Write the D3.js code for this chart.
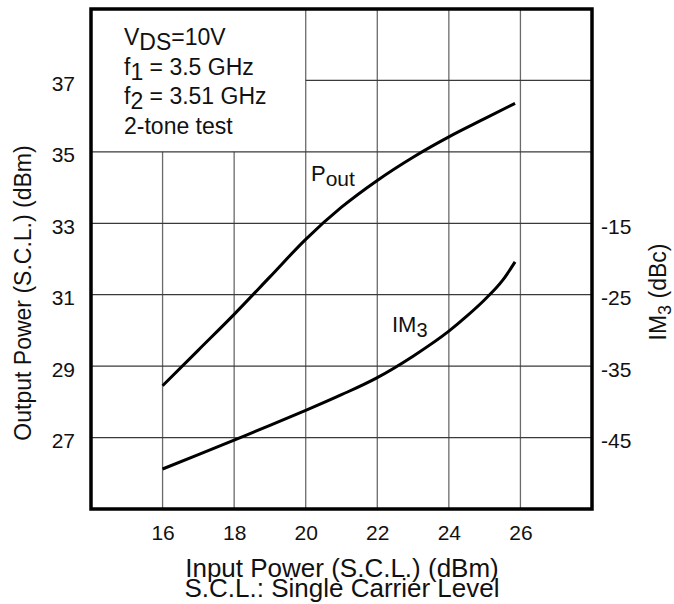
<!DOCTYPE html>
<html>
<head>
<meta charset="utf-8">
<script src="https://cdn.jsdelivr.net/npm/d3@7"></script>
<style>
  body { margin: 0; background: #fff; }
  svg text { font-family: "Liberation Sans", Arial, sans-serif; fill: #111; }
</style>
</head>
<body>
<div id="chart"></div>
<script>
// input power (dBm), x axis
const inputPower = [16, 17, 18, 19, 20, 21, 22, 23, 24, 25, 25.85];
// output power curve (left axis, dBm)
const poutDbm = [28.45, 29.45, 30.45, 31.5, 32.55, 33.45, 34.2, 34.85, 35.42, 35.93, 36.36];
// IM3 curve (right axis, dBc), sampled finer near the steep end
const im3Power = [16, 17, 18, 19, 20, 21, 22, 23, 24, 24.5, 25, 25.5, 25.85];
const im3Dbc = [-49.4, -47.4, -45.35, -43.3, -41.2, -39.0, -36.6, -33.6, -30.1, -28.0, -25.7, -23.0, -20.4];

const xTicks = [16, 18, 20, 22, 24, 26];
const leftTicks = [27, 29, 31, 33, 35, 37];
const rightTicks = [-45, -35, -25, -15];
const noteLines = [["V", "DS", "=10V"], ["f", "1", " = 3.5 GHz"], ["f", "2", " = 3.51 GHz"], ["2-tone test", "", ""]];

const width = 674, height = 604;
const margin = {top: 9, right: 82, bottom: 95, left: 91};

const svg = d3.select("#chart").append("svg")
    .attr("width", width)
    .attr("height", height);

const x = d3.scaleLinear().domain([14, 28]).range([margin.left, width - margin.right]);
const y = d3.scaleLinear().domain([25, 39]).range([height - margin.bottom, margin.top]);
const yIm = d3.scaleLinear().domain([-55, 15]).range([height - margin.bottom, margin.top]);

// grid - the note box in the upper left has no grid behind it
const grid = svg.append("g");
xTicks.forEach(v => {
    grid.append("line")
        .attr("x1", x(v)).attr("x2", x(v))
        .attr("y1", y(25)).attr("y2", v < 20 ? y(35) : y(39))
        .attr("stroke", "#6a6a6a").attr("stroke-width", 1.3);
});
leftTicks.forEach(v => {
    grid.append("line")
        .attr("x1", v > 35 ? x(20) : x(14)).attr("x2", x(28))
        .attr("y1", y(v)).attr("y2", y(v))
        .attr("stroke", "#3a3a3a").attr("stroke-width", 1.3);
});

// axes (labels only), plain hyphen for negatives like the source
const fmt = d => String(d);
const xAxis = svg.append("g")
    .attr("transform", `translate(0,${y(25)})`)
    .call(d3.axisBottom(x).tickValues(xTicks).tickFormat(fmt).tickSize(0).tickPadding(16));
const yAxis = svg.append("g")
    .attr("transform", `translate(${x(14)},0)`)
    .call(d3.axisLeft(y).tickValues(leftTicks).tickFormat(fmt).tickSize(0).tickPadding(16));
const yAxisR = svg.append("g")
    .attr("transform", `translate(${x(28)},0)`)
    .call(d3.axisRight(yIm).tickValues(rightTicks).tickFormat(fmt).tickSize(0).tickPadding(9));

[xAxis, yAxis, yAxisR].forEach(a => {
    a.select(".domain").remove();
    a.selectAll("text").attr("font-size", 21).attr("font-family", null).attr("fill", "#111");
});
yAxis.selectAll("text").attr("dy", "0.48em");
yAxisR.selectAll("text").attr("dy", "0.48em");

// curves
const line = d3.line().curve(d3.curveMonotoneX);
svg.append("path")
    .attr("d", line(inputPower.map((d, i) => [x(d), y(poutDbm[i])])))
    .attr("fill", "none").attr("stroke", "#000").attr("stroke-width", 3);
svg.append("path")
    .attr("d", line(im3Power.map((d, i) => [x(d), yIm(im3Dbc[i])])))
    .attr("fill", "none").attr("stroke", "#000").attr("stroke-width", 3);

// frame
svg.append("rect")
    .attr("x", x(14)).attr("y", y(39))
    .attr("width", x(28) - x(14)).attr("height", y(25) - y(39))
    .attr("fill", "none").attr("stroke", "#000").attr("stroke-width", 3.5);

// test conditions note
const noteY = [45, 75, 104, 134];
noteLines.forEach((parts, i) => {
    const t = svg.append("text")
        .attr("x", 124).attr("y", noteY[i])
        .attr("font-size", 23);
    t.append("tspan").text(parts[0]);
    if (parts[1]) {
        t.append("tspan").attr("dy", 5).text(parts[1]);
        t.append("tspan").attr("dy", -5).text(parts[2]);
    }
});

// curve labels
const pLab = svg.append("text").attr("x", 311).attr("y", 181).attr("font-size", 22);
pLab.append("tspan").text("P");
pLab.append("tspan").attr("dy", 5).attr("font-size", 21).text("out");

const imLab = svg.append("text").attr("x", 392).attr("y", 332).attr("font-size", 22);
imLab.append("tspan").text("IM");
imLab.append("tspan").attr("dy", 5).attr("font-size", 20).text("3");

// axis titles
svg.append("text")
    .attr("transform", "translate(31,293) rotate(-90)")
    .attr("text-anchor", "middle")
    .attr("font-size", 23)
    .text("Output Power (S.C.L.) (dBm)");

const rt = svg.append("text")
    .attr("transform", "translate(666,292) rotate(-90)")
    .attr("text-anchor", "middle")
    .attr("font-size", 23);
rt.append("tspan").text("IM");
rt.append("tspan").attr("dy", 5).attr("font-size", 18).text("3");
rt.append("tspan").attr("dy", -5).text(" (dBc)");

svg.append("text")
    .attr("x", 342).attr("y", 577)
    .attr("text-anchor", "middle")
    .attr("font-size", 26)
    .text("Input Power (S.C.L.) (dBm)");
svg.append("text")
    .attr("x", 342).attr("y", 597)
    .attr("text-anchor", "middle")
    .attr("font-size", 26)
    .text("S.C.L.: Single Carrier Level");
</script>
</body>
</html>
